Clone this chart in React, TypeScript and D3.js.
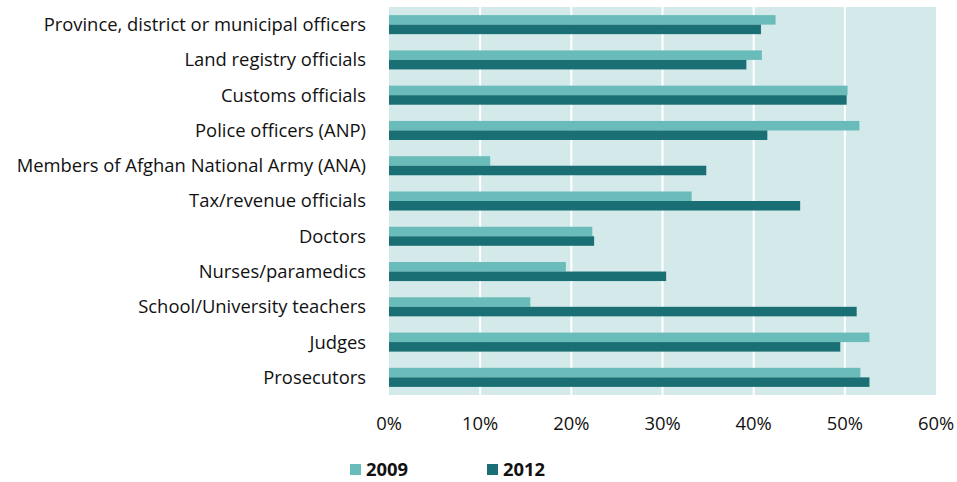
import React, { useEffect, useRef } from 'react';
import * as d3 from 'd3';

const categories = [
  'Province, district or municipal officers',
  'Land registry officials',
  'Customs officials',
  'Police officers (ANP)',
  'Members of Afghan National Army (ANA)',
  'Tax/revenue officials',
  'Doctors',
  'Nurses/paramedics',
  'School/University teachers',
  'Judges',
  'Prosecutors',
];
const values2009 = [42.4, 40.9, 50.3, 51.6, 11.1, 33.2, 22.3, 19.4, 15.5, 52.7, 51.7];
const values2012 = [40.8, 39.2, 50.2, 41.5, 34.8, 45.1, 22.5, 30.4, 51.3, 49.5, 52.7];
const seriesNames = ['2009', '2012'];
const xTicks = [0, 10, 20, 30, 40, 50, 60];

const colors = ['#69bcb9', '#196f73'];

export default function App() {
  const ref = useRef<SVGSVGElement>(null);

  useEffect(() => {
    const svg = d3.select(ref.current);
    svg.selectAll('*').remove();

    const left = 389;
    const right = 936;
    const top = 7;
    const bottom = 395;
    const font = "'Open Sans', 'Noto Sans', sans-serif";
    const fs = 18.4;

    const x = d3.scaleLinear().domain([0, 60]).range([left, right]);
    const y = d3
      .scaleBand()
      .domain(categories)
      .range([top, bottom])
      .paddingInner(0.46)
      .paddingOuter(0.23);
    const sub = d3.scaleBand().domain(seriesNames).range([0, y.bandwidth()]);

    // plot background
    svg
      .append('rect')
      .attr('x', left)
      .attr('y', top)
      .attr('width', right - left)
      .attr('height', bottom - top)
      .attr('fill', '#d4e9ea');

    // gridlines
    svg
      .selectAll('.grid')
      .data(xTicks.slice(1, -1))
      .enter()
      .append('line')
      .attr('x1', (d) => x(d))
      .attr('x2', (d) => x(d))
      .attr('y1', top)
      .attr('y2', bottom)
      .attr('stroke', '#ffffff')
      .attr('stroke-width', 2);

    const data = categories.map((c, i) => ({ c, v: [values2009[i], values2012[i]] }));

    const groups = svg
      .selectAll('.grp')
      .data(data)
      .enter()
      .append('g')
      .attr('transform', (d) => `translate(0,${y(d.c)})`);

    seriesNames.forEach((s, si) => {
      groups
        .append('rect')
        .attr('x', x(0))
        .attr('y', sub(s) as number)
        .attr('width', (d) => x(d.v[si]) - x(0))
        .attr('height', sub.bandwidth())
        .attr('fill', colors[si]);
    });

    // category labels
    svg
      .selectAll('.cat')
      .data(categories)
      .enter()
      .append('text')
      .attr('x', 366)
      .attr('y', (d) => (y(d) as number) + y.bandwidth() / 2)
      .attr('dy', '0.35em')
      .attr('text-anchor', 'end')
      .attr('font-family', font)
      .attr('font-size', fs)
      .attr('fill', '#111')
      .text((d) => d);

    // x axis labels
    svg
      .selectAll('.xt')
      .data(xTicks)
      .enter()
      .append('text')
      .attr('x', (d) => x(d))
      .attr('y', 424)
      .attr('dy', '0.35em')
      .attr('text-anchor', 'middle')
      .attr('font-family', font)
      .attr('font-size', fs)
      .attr('fill', '#111')
      .text((d) => `${d}%`);

    // legend
    const legendX = [350, 487];
    seriesNames.forEach((s, i) => {
      svg
        .append('rect')
        .attr('x', legendX[i])
        .attr('y', 464)
        .attr('width', 11)
        .attr('height', 11)
        .attr('fill', colors[i]);
      svg
        .append('text')
        .attr('x', legendX[i] + 16)
        .attr('y', 470)
        .attr('dy', '0.35em')
        .attr('font-family', font)
        .attr('font-weight', 'bold')
        .attr('font-size', fs)
        .attr('fill', '#111')
        .text(s);
    });
  }, []);

  return (
    <svg
      ref={ref}
      width={957}
      height={482}
      style={{ position: 'absolute', left: 0, top: 0, background: '#fff' }}
    />
  );
}
